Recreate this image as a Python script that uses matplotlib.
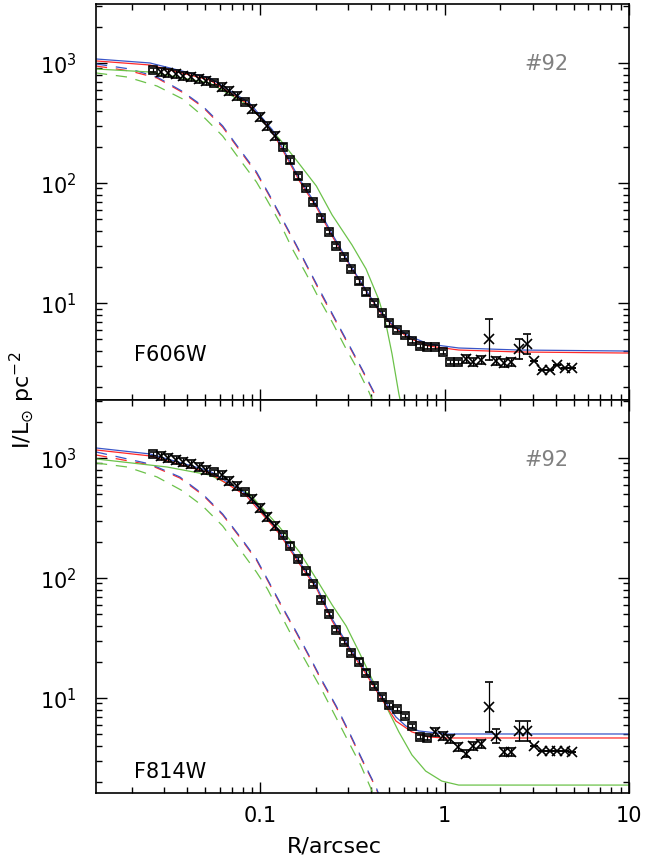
import matplotlib
matplotlib.use("Agg")
import matplotlib.pyplot as plt
from matplotlib.ticker import LogLocator, FuncFormatter, NullFormatter

plt.rcParams['font.family'] = ['DejaVu Sans']
plt.rcParams['mathtext.default'] = 'regular'

# ---------------- data ----------------
radius = [0.0261, 0.0287, 0.0316, 0.0347, 0.0382, 0.0420, 0.0462, 0.0509, 0.0559, 0.0615,
          0.0677, 0.0745, 0.0819, 0.0901, 0.0991, 0.109, 0.120, 0.132, 0.145, 0.160,
          0.176, 0.193, 0.212, 0.234, 0.257, 0.283, 0.311, 0.342, 0.376, 0.414,
          0.455, 0.501, 0.551, 0.606, 0.666, 0.733, 0.806, 0.887, 0.976, 1.07,
          1.18, 1.30, 1.43, 1.57, 1.73, 1.90, 2.09, 2.30, 2.53, 2.79,
          3.06, 3.37, 3.71, 4.08, 4.48, 4.93]

# S = square, X = cross
top_kind = "SXXXXXXXSXXXSXXXX" + "SSSSSSSSSSSSSSSSSSSSSSSS" + "XXXXXXXXXXXXXXX"
bot_kind = "SXXXXXXXSXXXSXXXX" + "SSSSSSSSSSSSSSSSSSSS" + "XXXXXXXXXXXXXXXXXXX"

top_I = [875, 841, 826, 809, 780, 764, 736, 708, 681, 631,
         584, 531, 473, 414, 355, 298, 246, 200, 155, 114,
         91, 69.5, 51, 39, 29.9, 24.2, 19.2, 15.2, 12.3, 10.0,
         8.25, 6.8, 5.96, 5.41, 4.82, 4.38, 4.30, 4.30, 3.91, 3.22,
         3.22, 3.42, 3.22, 3.35, 5.0, 3.29, 3.16, 3.22, 4.14, 4.55,
         3.29, 2.76, 2.76, 3.04, 2.87, 2.87]
top_err_dex = [0.02, 0.03, 0.03, 0.03, 0.03, 0.03, 0.03, 0.03, 0.02, 0.03,
               0.03, 0.03, 0.02, 0.03, 0.03, 0.03, 0.03, 0.02, 0.02, 0.02,
               0.02, 0.02, 0.02, 0.02, 0.02, 0.02, 0.02, 0.02, 0.02, 0.02,
               0.02, 0.02, 0.02, 0.02, 0.02, 0.02, 0.02, 0.02, 0.02, 0.02,
               0.02, 0.03, 0.03, 0.03, 0.17, 0.03, 0.03, 0.03, 0.08, 0.083,
               0.0, 0.0, 0.0, 0.0, 0.0, 0.0]

bot_I = [1080, 1040, 1000, 962, 926, 891, 841, 794, 764, 721,
         643, 584, 521, 455, 383, 322, 271, 228, 185, 144,
         114, 89.1, 65.6, 50.1, 36.9, 29.3, 23.7, 20.0, 16.2, 12.6,
         10.2, 8.75, 8.09, 7.08, 5.84, 4.73, 4.64, 5.21, 4.82, 4.55,
         3.91, 3.42, 3.98, 4.14, 8.41, 4.82, 3.55, 3.55, 5.31, 5.31,
         3.98, 3.61, 3.61, 3.61, 3.61, 3.55]
bot_err_dex = [0.02, 0.03, 0.03, 0.03, 0.03, 0.03, 0.03, 0.03, 0.02, 0.03,
               0.03, 0.03, 0.02, 0.03, 0.03, 0.03, 0.03, 0.02, 0.02, 0.02,
               0.02, 0.02, 0.02, 0.02, 0.02, 0.02, 0.02, 0.02, 0.02, 0.02,
               0.02, 0.02, 0.02, 0.02, 0.02, 0.02, 0.02, 0.03, 0.03, 0.03,
               0.03, 0.03, 0.03, 0.03, 0.205, 0.058, 0.03, 0.03, 0.08, 0.085,
               0.0, 0.0, 0.0, 0.0, 0.0, 0.0]

# ---------------- model curves ----------------
# top panel (F606W)
top_red_R = [0.0128, 0.02512, 0.05297, 0.08724, 0.1161, 0.1383, 0.1626, 0.2009, 0.2449,
             0.3027, 0.3741, 0.4395, 0.5297, 0.6383, 0.8204, 1.191, 2.512, 10]
top_red_I = [1040, 962, 721, 447, 266, 165, 104, 63.1, 36.1, 21.1, 12.6, 8.58, 6.31, 5.11,
             4.38, 4.06, 3.91, 3.83]
top_blue_R = top_red_R
top_blue_I = [1080, 1000, 750, 464, 277, 171, 108, 65.6, 37.6, 21.5, 12.8, 8.75, 6.43, 5.31,
              4.55, 4.22, 4.06, 3.98]
top_green_R = [0.0128, 0.02512, 0.05297, 0.08724, 0.1268, 0.1626, 0.2009, 0.2449, 0.3141,
               0.3741, 0.4395, 0.4797, 0.5176, 0.5636, 0.5861]
top_green_I = [891, 841, 681, 438, 233, 144, 94.5, 54.1, 30.4, 19.2, 10.6, 6.68, 3.76, 1.75, 1.31]
top_dash_R = [0.0128, 0.01959, 0.02742, 0.03741, 0.04853, 0.06237, 0.07691, 0.09507, 0.1119,
              0.1315, 0.1566, 0.1840, 0.2163, 0.2576, 0.3027, 0.3556, 0.4130, 0.4395]
top_bdash_I = [981, 891, 764, 584, 438, 299, 192, 124, 79.4, 50.1, 30.4, 18.8, 11.7, 7.08,
               4.47, 2.82, 1.81, 1.52]
top_rdash_I = [944, 857, 750, 573, 430, 292, 188, 121, 77.8, 49.2, 29.9, 18.5, 11.4, 6.95,
               4.38, 2.77, 1.78, 1.49]
top_gdash_R = [0.0128, 0.01888, 0.02742, 0.03784, 0.04853, 0.06237, 0.07691, 0.09507, 0.1077,
               0.1268, 0.1490, 0.1774, 0.2084, 0.2449, 0.2917, 0.3428, 0.3882, 0.4027]
top_gdash_I = [826, 764, 643, 501, 362, 246, 158, 102, 73.6, 47.3, 28.2, 17.4, 10.8, 6.95,
               4.14, 2.66, 1.81, 1.58]

# bottom panel (F814W)
bot_blue_R = [0.0128, 0.02512, 0.05297, 0.08395, 0.1268, 0.1626, 0.2009, 0.2449, 0.3027,
              0.3741, 0.4508, 0.5433, 0.6152, 0.7228, 1.012, 10]
bot_blue_I = [1211, 1080, 779, 501, 242, 136, 85.8, 45.5, 26.6, 16.5, 10.4, 6.95, 5.84, 5.31,
              5.01, 5.01]
bot_red_R = [0.0128, 0.02512, 0.05297, 0.08395, 0.1268, 0.1626, 0.2009, 0.2449, 0.3027,
             0.3741, 0.4508, 0.5433, 0.6637, 0.8204, 1.012, 10]
bot_red_I = [1166, 1040, 750, 482, 233, 131, 82.6, 43.8, 25.6, 15.8, 10.0, 6.43, 5.21, 4.73,
             4.64, 4.64]
bot_green_R = [0.0128, 0.03105, 0.05297, 0.08724, 0.1268, 0.1626, 0.2009, 0.2449, 0.2917,
               0.3428, 0.4027, 0.4797, 0.5636, 0.6637, 0.7880, 0.9638, 1.191, 10]
bot_green_I = [981, 841, 721, 501, 266, 165, 98.1, 59.6, 39.8, 24.2, 14.4, 8.58, 5.21, 3.35,
               2.46, 2.03, 1.88, 1.88]
bot_dash_R = [0.0128, 0.02512, 0.03648, 0.04853, 0.06237, 0.07691, 0.09507, 0.1119, 0.1315,
              0.1566, 0.1840, 0.2163, 0.2576, 0.3027, 0.3556, 0.4236, 0.4395]
bot_bdash_I = [1122, 891, 695, 501, 341, 224, 144, 90.8, 57.3, 35.5, 22.4, 13.9, 8.58, 5.21,
               3.1, 1.81, 1.56]
bot_rdash_I = [1059, 875, 681, 492, 335, 220, 141, 89.1, 56.2, 34.8, 22.0, 13.6, 8.41, 5.11,
               3.04, 1.78, 1.53]
bot_gdash_R = [0.0128, 0.01888, 0.02742, 0.03784, 0.04853, 0.06237, 0.07691, 0.09507, 0.1091,
               0.1300, 0.1528, 0.1795, 0.2137, 0.2512, 0.2951, 0.3516, 0.4027, 0.4130]
bot_gdash_I = [908, 841, 695, 531, 398, 271, 175, 112, 80.9, 48.2, 29.9, 19.2, 11.9, 7.36,
               4.55, 2.71, 1.68, 1.52]

RED = '#ff2a2a'
BLUE = '#3a56c8'
GREEN = '#6cc24a'
DASH = (0, (9, 7))

fig = plt.figure(figsize=(6.45, 8.62), dpi=100)
ax1 = fig.add_axes([0.1488, 0.5348, 0.8264, 0.4594])
ax2 = fig.add_axes([0.1488, 0.0789, 0.8264, 0.4559])


def draw_panel(ax, I, err, kind, curves, ylim, band, band_y):
    for R, Iv, col, ls in curves:
        ax.plot(R, Iv, color=col, lw=0.9, ls=ls, zorder=2)
    for k, mk, ms, cs in (("S", 's', 6.0, 2.0), ("X", 'x', 6.5, 3.2)):
        xs = [radius[i] for i in range(len(radius)) if kind[i] == k]
        ys = [I[i] for i in range(len(radius)) if kind[i] == k]
        es = [err[i] for i in range(len(radius)) if kind[i] == k]
        lo = [y * (1 - 10 ** (-e)) for y, e in zip(ys, es)]
        hi = [y * (10 ** e - 1) for y, e in zip(ys, es)]
        ax.errorbar(xs, ys, yerr=[lo, hi], fmt=mk, mfc='none', mec='k', ms=ms, mew=1.2,
                    ecolor='k', elinewidth=0.9, capsize=cs, capthick=0.9, zorder=3, ls='none')
    ax.set_xscale('log')
    ax.set_yscale('log')
    ax.set_xlim(0.0128, 10)
    ax.set_ylim(*ylim)
    ax.yaxis.set_major_locator(LogLocator(base=10, numticks=10))
    ax.yaxis.set_minor_locator(LogLocator(base=10, subs=range(2, 10), numticks=20))
    ax.xaxis.set_minor_locator(LogLocator(base=10, subs=range(2, 10), numticks=20))
    ax.tick_params(which='both', direction='in', top=True, right=True, width=1.0,
                   labelsize=15)
    ax.tick_params(axis='y', pad=14)
    ax.tick_params(axis='x', pad=9)
    ax.tick_params(which='major', length=8)
    ax.tick_params(which='minor', length=4)
    for s in ax.spines.values():
        s.set_linewidth(1.2)
    ax.text(0.845, 0.85, "#92", transform=ax.transAxes, fontsize=15, color='#808080',
            ha='center', va='center')
    ax.text(0.14, band_y, band, transform=ax.transAxes, fontsize=15, color='k',
            ha='center', va='center')


draw_panel(ax1, top_I, top_err_dex, top_kind,
           [(top_gdash_R, top_gdash_I, GREEN, DASH), (top_dash_R, top_rdash_I, RED, DASH),
            (top_dash_R, top_bdash_I, BLUE, DASH), (top_green_R, top_green_I, GREEN, '-'),
            (top_red_R, top_red_I, RED, '-'), (top_blue_R, top_blue_I, BLUE, '-')],
           (1.556, 3100), "F606W", 0.115)
draw_panel(ax2, bot_I, bot_err_dex, bot_kind,
           [(bot_gdash_R, bot_gdash_I, GREEN, DASH), (bot_dash_R, bot_rdash_I, RED, DASH),
            (bot_dash_R, bot_bdash_I, BLUE, DASH), (bot_green_R, bot_green_I, GREEN, '-'),
            (bot_red_R, bot_red_I, RED, '-'), (bot_blue_R, bot_blue_I, BLUE, '-')],
           (1.615, 3040), "F814W", 0.055)

ax1.xaxis.set_major_formatter(NullFormatter())
ax1.xaxis.set_minor_formatter(NullFormatter())
ax2.xaxis.set_major_formatter(FuncFormatter(lambda v, p: '%g' % v))
ax2.xaxis.set_minor_formatter(NullFormatter())

fig.text(0.519, 0.018, "R/arcsec", ha='center', va='center', fontsize=16)
fig.text(0.034, 0.536, r"I/L$_{\odot}$ pc$^{-2}$", ha='center', va='center',
         fontsize=16, rotation=90)

fig.savefig("out.png", dpi=100)
